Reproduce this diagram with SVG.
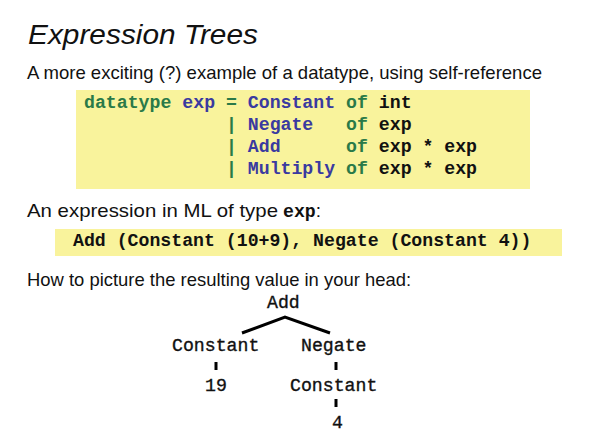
<svg xmlns="http://www.w3.org/2000/svg" width="593" height="433" viewBox="0 0 593 433">
<style>
.sans{font-family:"Liberation Sans",Arial,sans-serif;fill:#111;}
.mono{font-family:"Liberation Mono","Courier New",monospace;font-size:18.2px;}
.code{font-weight:bold;}
.g{fill:#2a7a48;}
.b{fill:#3a3aa0;}
.k{fill:#111;}
.box{fill:#f9f39c;}
.edge{stroke:#000;stroke-width:3;fill:none;}
.node{fill:#111;stroke:#111;stroke-width:0.35;}
</style>
<rect width="593" height="433" fill="#fff"/>
<text class="sans" x="28" y="44" font-size="28" font-style="italic" textLength="230" lengthAdjust="spacingAndGlyphs">Expression Trees</text>
<text class="sans" x="27" y="79" font-size="19" textLength="515" lengthAdjust="spacingAndGlyphs">A more exciting (?) example of a datatype, using self-reference</text>
<rect class="box" x="76" y="90" width="454" height="99"/>
<g class="mono code">
<text y="108"><tspan x="84" class="g">datatype</tspan><tspan x="182.3" class="b">exp</tspan><tspan x="226" class="g">=</tspan><tspan x="247.8" class="b">Constant</tspan><tspan x="346.1" class="g">of</tspan><tspan x="378.8" class="k">int</tspan></text>
<text y="130"><tspan x="226" class="g">|</tspan><tspan x="247.8" class="b">Negate</tspan><tspan x="346.1" class="g">of</tspan><tspan x="378.8" class="k">exp</tspan></text>
<text y="152"><tspan x="226" class="g">|</tspan><tspan x="247.8" class="b">Add</tspan><tspan x="346.1" class="g">of</tspan><tspan x="378.8" class="k">exp * exp</tspan></text>
<text y="174"><tspan x="226" class="g">|</tspan><tspan x="247.8" class="b">Multiply</tspan><tspan x="346.1" class="g">of</tspan><tspan x="378.8" class="k">exp * exp</tspan></text>
</g>
<text class="sans" x="27" y="217" font-size="19"><tspan textLength="251" lengthAdjust="spacingAndGlyphs">An expression in ML of type</tspan><tspan x="283" class="mono code" font-size="21" fill="#111">exp</tspan><tspan>:</tspan></text>
<rect class="box" x="55" y="229" width="507" height="27"/>
<text class="mono code k" x="73" y="246">Add (Constant (10+9), Negate (Constant 4))</text>
<text class="sans" x="27" y="286" font-size="19" textLength="384" lengthAdjust="spacingAndGlyphs">How to picture the resulting value in your head:</text>
<g id="connectors">
<polyline class="edge" points="242,333 285,317 330,333"/>
<line class="edge" x1="216" y1="362" x2="216" y2="370"/>
<line class="edge" x1="336" y1="362" x2="336" y2="370"/>
<line class="edge" x1="336" y1="399" x2="336" y2="407"/>
</g>
<g id="n-add"><text class="mono node" x="267" y="308">Add</text></g>
<g id="n-const1"><text class="mono node" x="172" y="351">Constant</text></g>
<g id="n-negate"><text class="mono node" x="301" y="351">Negate</text></g>
<g id="n-19"><text class="mono node" x="205" y="391">19</text></g>
<g id="n-const2"><text class="mono node" x="290" y="391">Constant</text></g>
<g id="n-4"><text class="mono node" x="332" y="428">4</text></g>
</svg>
